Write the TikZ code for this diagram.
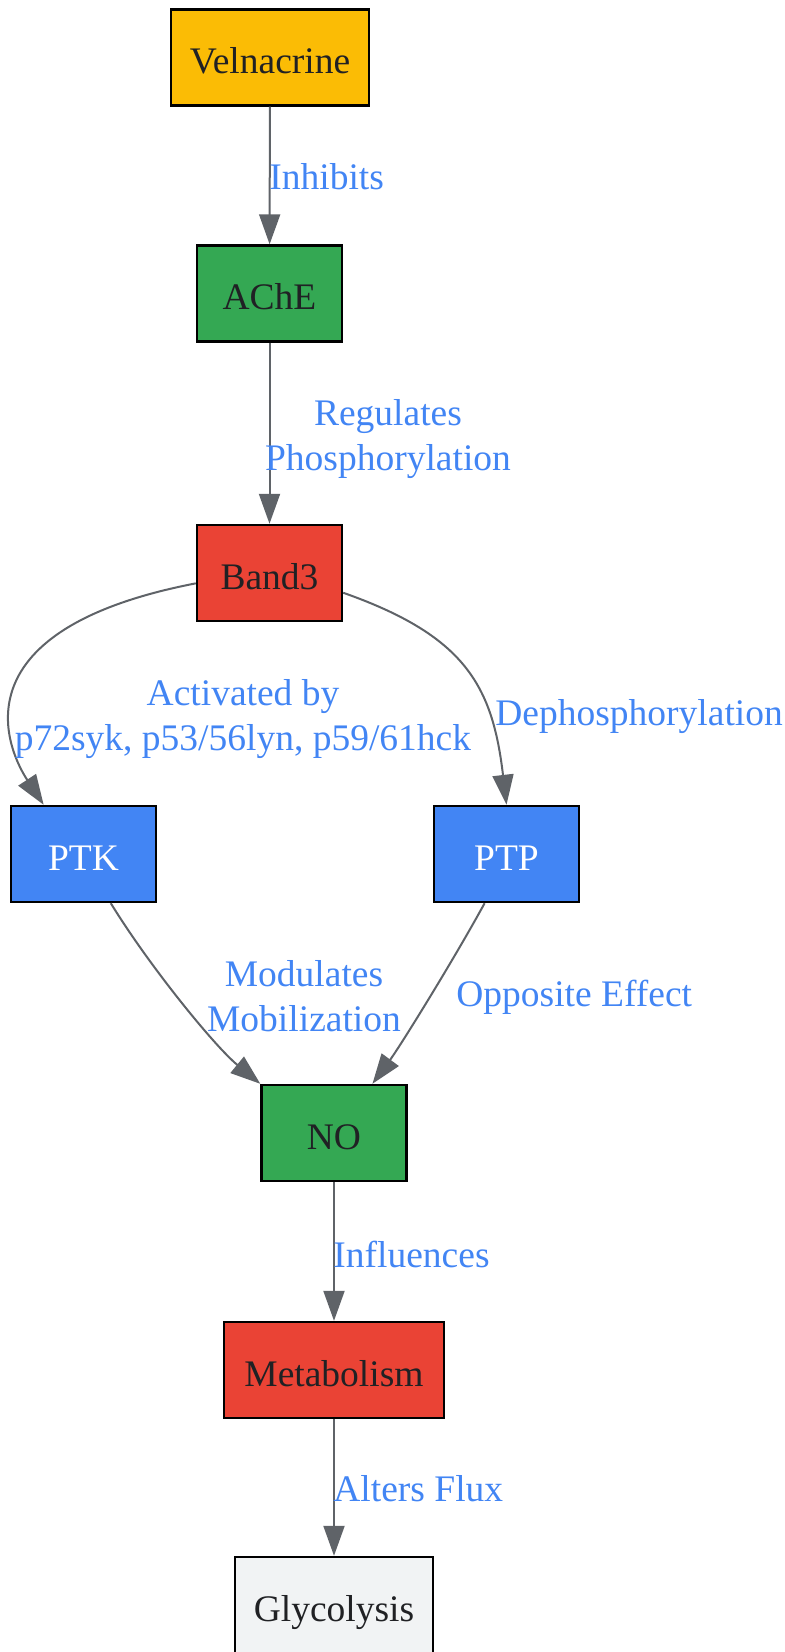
\documentclass[tikz,border=0pt]{standalone}
\usepackage{fontspec}
\setmainfont{Liberation Serif}
\usetikzlibrary{arrows.meta}
\definecolor{velyellow}{HTML}{FBBC05}
\definecolor{enzgreen}{HTML}{34A853}
\definecolor{bandred}{HTML}{EA4335}
\definecolor{kinblue}{HTML}{4285F4}
\definecolor{glygray}{HTML}{F1F3F4}
\definecolor{txtdark}{HTML}{202124}
\definecolor{edgegray}{HTML}{5F6368}
\begin{document}
\begin{tikzpicture}[x=0.5pt,y=-0.5pt,
  box/.style={draw=black,line width=1.2pt,minimum width=72.5pt,minimum height=48pt,inner sep=0pt,text height=16pt,text depth=0pt,font=\fontsize{18.75}{22.5}\selectfont,text=txtdark},
  lbl/.style={text=kinblue,inner sep=0pt,font=\fontsize{18.75}{22.5}\selectfont,align=center},
  arr/.style={draw=edgegray,line width=1pt,-{Triangle[length=15pt,width=10.5pt]}}]
\useasboundingbox (0,0) rectangle (785,1652);
\node[box,fill=velyellow,minimum width=99pt] (vel) at (270,57.5) {Velnacrine};
\node[box,fill=enzgreen] (ache) at (269.5,293.5) {AChE};
\node[box,fill=bandred] (band3) at (269.5,573) {Band3};
\node[box,fill=kinblue,text=white] (ptk) at (83.5,854) {PTK};
\node[box,fill=kinblue,text=white] (ptp) at (506.5,854) {PTP};
\node[box,fill=enzgreen] (no) at (334,1133) {NO};
\node[box,fill=bandred,minimum width=110pt] (metab) at (334,1370) {Metabolism};
\node[box,fill=glygray,minimum width=99pt] (glyco) at (334,1605) {Glycolysis};
\draw[arr] (vel) -- (ache);
\draw[arr] (ache) -- (band3);
\draw[arr] (band3.188) .. controls +(-248,48) and +(-33,-50) .. (ptk.129);
\draw[arr] (band3.-15) .. controls +(122,43) and +(-14,-119) .. (ptp.north);
\draw[arr] (ptk.-61) .. controls +(40,65) and +(-45,-37) .. (no.north west);
\draw[arr] (ptp.-114) .. controls +(-30,55) and +(28,-38) .. (no.52);
\draw[arr] (no) -- (metab);
\draw[arr] (metab) -- (glyco);
\node[lbl,anchor=west] (inhib) at (269,177) {Inhibits};
\node[lbl] (regul) at (388,439) {Regulates\\Phosphorylation};
\node[lbl] (activ) at (243,719) {Activated by\\p72syk, p53/56lyn, p59/61hck};
\node[lbl,anchor=west] (dephos) at (495,717) {Dephosphorylation};
\node[lbl] (modul) at (304,996) {Modulates\\Mobilization};
\node[lbl,anchor=west] (oppos) at (456,997) {Opposite Effect};
\node[lbl,anchor=west] (influ) at (333,1254) {Influences};
\node[lbl,anchor=west] (alters) at (333,1489) {Alters Flux};
\end{tikzpicture}
\end{document}
